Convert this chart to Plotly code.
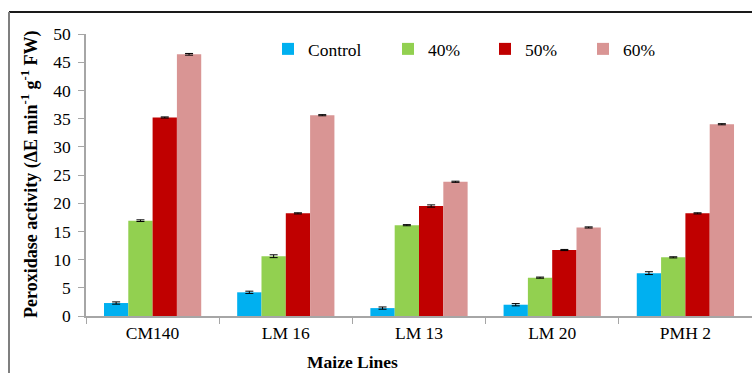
import plotly.graph_objects as go

categories = ["CM140", "LM 16", "LM 13", "LM 20", "PMH 2"]
series_names = ["Control", "40%", "50%", "60%"]
control = [2.3, 4.2, 1.4, 2.0, 7.6]
pct40 = [16.9, 10.6, 16.1, 6.8, 10.4]
pct50 = [35.2, 18.2, 19.5, 11.7, 18.2]
pct60 = [46.4, 35.6, 23.8, 15.7, 34.0]
err_control = [0.2, 0.2, 0.2, 0.2, 0.25]
err40 = [0.15, 0.25, 0.1, 0.1, 0.1]
err50 = [0.1, 0.1, 0.2, 0.1, 0.1]
err60 = [0.15, 0.1, 0.1, 0.1, 0.1]
colors = ["#00B0F0", "#92D050", "#C00000", "#D99594"]
y_ticks = [0, 5, 10, 15, 20, 25, 30, 35, 40, 45, 50]

values = [control, pct40, pct50, pct60]
errors = [err_control, err40, err50, err60]

FONT = "Liberation Serif, serif"
W, H = 752, 373
ml, mr, mt, mb = 86, 0, 34, 57
pw, ph = W - ml - mr, H - mt - mb

def px2x(px):
    return (px - ml) / pw

def py2y(py):
    return (H - mb - py) / ph

fig = go.Figure()
legend_names = ["legend", "legend2", "legend3", "legend4"]
for i, name in enumerate(series_names):
    fig.add_trace(go.Bar(
        x=categories, y=values[i], name=name,
        marker=dict(color=colors[i], line=dict(width=0)),
        error_y=dict(type="data", array=errors[i], color="#000000", thickness=1, width=4),
        legend=legend_names[i], showlegend=True,
    ))

legend_text_px = [308, 428, 525, 623]
leg = {}
for i, ln in enumerate(legend_names):
    leg[ln] = dict(
        x=px2x(legend_text_px[i] - 40), y=py2y(49), xanchor="left", yanchor="middle",
        orientation="h", bgcolor="rgba(0,0,0,0)", borderwidth=0,
        font=dict(family=FONT, size=17.5, color="#000000"),
    )

fig.update_layout(
    width=W, height=H,
    margin=dict(l=ml, r=mr, t=mt, b=mb),
    paper_bgcolor="white", plot_bgcolor="white",
    barmode="group", bargap=0.27, bargroupgap=0,
    showlegend=True,
    font=dict(family=FONT, size=17.5, color="#000000"),
    xaxis=dict(
        showgrid=False, showline=True, linecolor="#A6A6A6", linewidth=1.5,
        ticks="outside", tickson="boundaries", ticklen=6, tickcolor="#A6A6A6",
        tickfont=dict(family=FONT, size=17.5, color="#000000"),
    ),
    yaxis=dict(
        range=[0, 50], tickvals=y_ticks, showgrid=False, zeroline=False,
        showline=True, linecolor="#A6A6A6", linewidth=1.5,
        ticks="outside", ticklen=6, tickcolor="#A6A6A6", ticklabelstandoff=4,
        tickfont=dict(family=FONT, size=17.5, color="#000000"),
    ),
    annotations=[
        dict(text="<b>Maize Lines</b>", x=px2x(352), y=py2y(362), xref="paper", yref="paper",
             showarrow=False, xanchor="center", yanchor="middle",
             font=dict(family=FONT, size=17.5, color="#000000")),
        dict(text="<b>Peroxidase activity (ΔE min<sup>-1</sup> g<sup>-1</sup> FW)</b>",
             x=px2x(30), y=py2y(175), xref="paper", yref="paper", textangle=-90,
             showarrow=False, xanchor="center", yanchor="middle",
             font=dict(family=FONT, size=18, color="#000000")),
    ],
    shapes=[
        dict(type="line", xref="paper", yref="paper", x0=px2x(9), x1=px2x(760),
             y0=py2y(12), y1=py2y(12), line=dict(color="#1A1A1A", width=2)),
        dict(type="line", xref="paper", yref="paper", x0=px2x(9), x1=px2x(9),
             y0=py2y(12), y1=py2y(380), line=dict(color="#7F7F7F", width=2)),
    ],
    **leg,
)

fig.write_html("out.html", config={"displayModeBar": False},
               post_script="document.body.style.margin='0';")
